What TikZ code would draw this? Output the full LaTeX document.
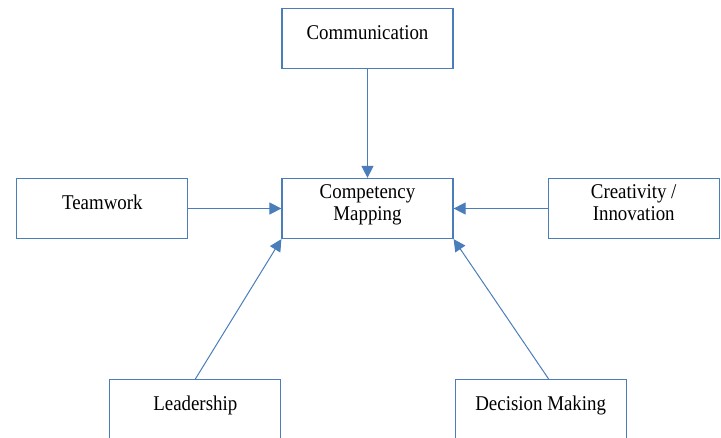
\documentclass[tikz,border=0pt]{standalone}
\usepackage{fontspec}
\setmainfont{Liberation Serif}[FakeStretch=0.9]
\usetikzlibrary{arrows.meta,positioning}

\definecolor{wordblue}{RGB}{74,126,187}

\begin{document}
\begin{tikzpicture}[->,>={Triangle[length=12pt,width=12pt]},auto,line width=1pt,draw=wordblue]
	\tikzstyle{box}=[draw=wordblue,line width=1.2pt,fill=white,minimum width=171pt,minimum height=60pt,
		align=center,text depth=12pt,font=\fontsize{21}{22}\selectfont]
	\useasboundingbox (0,0) rectangle (721pt,-437pt);

	\node[box] (map) at (367.5pt,-208.5pt) {Competency\\Mapping};
	\node[box] (comm) [above = 109pt of map] {Communication};
	\node[box] (team) [left = 93pt of map] {Teamwork};
	\node[box] (crea) [right = 94pt of map] {Creativity /\\Innovation};
	\node[box] (lead) [below left = 140pt and 0pt of map] {Leadership};
	\node[box] (dec) [below right = 140pt and 1pt of map] {Decision Making};

	\path (comm) edge (map);
	\path (team) edge (map);
	\path (crea) edge (map);
	\path (lead.north) edge (map.south west);
	\path ([xshift=8pt]dec.north) edge (map.south east);
\end{tikzpicture}
\end{document}
